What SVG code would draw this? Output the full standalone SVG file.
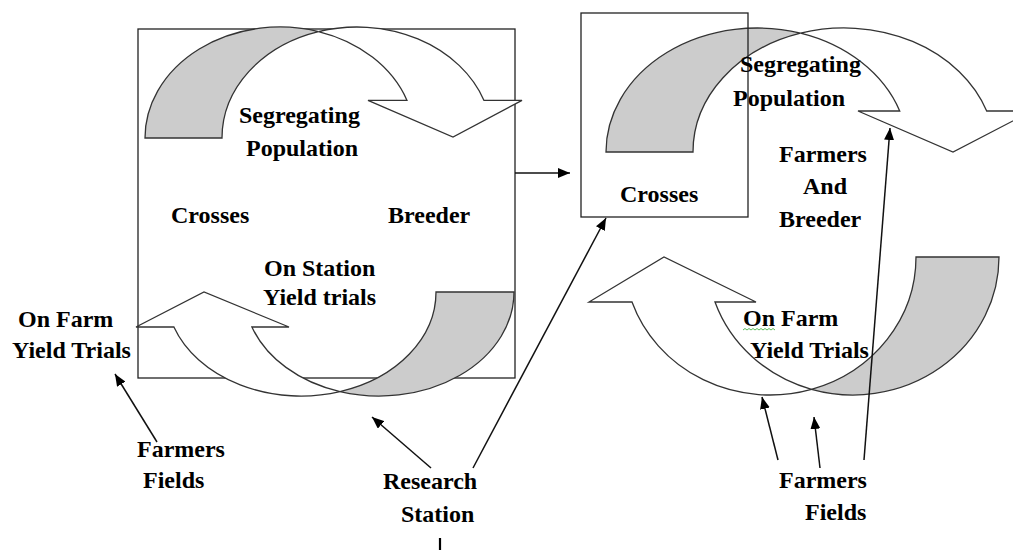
<svg xmlns="http://www.w3.org/2000/svg" width="1013" height="550" viewBox="0 0 1013 550">
<style>
  .box{fill:#fff;stroke:#222;stroke-width:1.3}
  .boxo{fill:none;stroke:#222;stroke-width:1.3}
  .wh{fill:#fff;stroke:#333;stroke-width:1.3;stroke-linejoin:miter}
  .gr{fill:#cccccc;stroke:#333;stroke-width:1.3}
  .t{font-family:"Liberation Serif","Times New Roman",serif;font-weight:bold;font-size:24px;fill:#000}
  .c{stroke:#111;stroke-width:1.5;fill:none}
</style>
<defs>
  <marker id="ah" viewBox="0 0 12 10" refX="12" refY="5" markerWidth="12" markerHeight="10" markerUnits="userSpaceOnUse" orient="auto">
    <path d="M0,0 L12,5 L0,10 Z" fill="#000"/>
  </marker>
</defs>
<rect width="1013" height="550" fill="#fff"/>

<g id="left-box">
  <rect class="box" x="138" y="29" width="377" height="349"/>
</g>

<g id="left-top-arrow">
  <path class="gr" d="M145,138 A135,111 0 0,1 318.5,31.6 A135,111 0 0,0 222,138 Z"/>
  <path class="wh" d="M318.5,31.6 A135,111 0 0,1 407,100.4 L368,100.4 L453,137 L522,100.4 L484,100.4 A135,111 0 0,0 318.5,31.6 Z"/>
</g>

<g id="left-bottom-arrow">
  <path class="gr" d="M436,292 L514,292 A135,104 0 0,1 340,391.6 A135,104 0 0,0 436,292 Z"/>
  <path class="wh" d="M340,391.6 A135,104 0 0,1 173.9,327 L136,327 L204,292 L289,327 L251.9,327 A135,104 0 0,0 340,391.6 Z"/>
</g>

<g id="right-top-arrow">
  <path class="gr" d="M606,152 A151.2,124 0 0,1 800.5,33.2 A151.2,124 0 0,0 693,152 Z"/>
  <path class="wh" d="M800.5,33.2 A151.2,124 0 0,1 899.7,111 L858,111 L953,152 L1032,111 L986.7,111 A151.2,124 0 0,0 800.5,33.2 Z"/>
</g>

<g id="right-box">
  <rect class="boxo" x="581" y="13" width="167" height="204"/>
</g>

<g id="right-bottom-arrow">
  <path class="gr" d="M916,257 L999,257 A146,138 0 0,1 811.5,389.3 A146,138 0 0,0 916,257 Z"/>
  <path class="wh" d="M811.5,389.3 A146,138 0 0,1 632,302 L589,302 L664,257 L756,302 L715,302 A146,138 0 0,0 811.5,389.3 Z"/>
</g>

<g id="labels">
  <text class="t" x="239" y="123">Segregating</text>
  <text class="t" x="246" y="156">Population</text>
  <text class="t" x="171" y="223">Crosses</text>
  <text class="t" x="388" y="223">Breeder</text>
  <text class="t" x="264" y="276">On Station</text>
  <text class="t" x="263" y="305">Yield trials</text>
  <text class="t" x="18" y="327">On Farm</text>
  <text class="t" x="12" y="358">Yield Trials</text>
  <text class="t" x="137" y="457">Farmers</text>
  <text class="t" x="143" y="488">Fields</text>
  <text class="t" x="383" y="489">Research</text>
  <text class="t" x="401" y="522">Station</text>
  <text class="t" x="620" y="202">Crosses</text>
  <text class="t" x="740" y="72">Segregating</text>
  <text class="t" x="733" y="106">Population</text>
  <text class="t" x="779" y="162">Farmers</text>
  <text class="t" x="803" y="194">And</text>
  <text class="t" x="779" y="227">Breeder</text>
  <text class="t" x="743" y="326">On Farm</text>
  <text class="t" x="750" y="358">Yield Trials</text>
  <text class="t" x="779" y="488">Farmers</text>
  <text class="t" x="805" y="520">Fields</text>
  <path d="M743,330 l2,-1.5 l2,1.5 l2,-1.5 l2,1.5 l2,-1.5 l2,1.5 l2,-1.5 l2,1.5 l2,-1.5 l2,1.5 l2,-1.5 l2,1.5 l2,-1.5 l2,1.5 l2,-1.5 l2,1.5" fill="none" stroke="#3a3" stroke-width="0.8"/>
</g>

<g id="connectors">
  <line class="c" x1="515" y1="173" x2="570" y2="173" marker-end="url(#ah)"/>
  <line class="c" x1="473" y1="468" x2="606" y2="218" marker-end="url(#ah)"/>
  <line class="c" x1="431" y1="468" x2="372" y2="417" marker-end="url(#ah)"/>
  <line class="c" x1="157" y1="442" x2="115" y2="374" marker-end="url(#ah)"/>
  <line class="c" x1="778" y1="460" x2="762" y2="397" marker-end="url(#ah)"/>
  <line class="c" x1="820" y1="468" x2="814" y2="417" marker-end="url(#ah)"/>
  <line class="c" x1="864" y1="460" x2="890" y2="128" marker-end="url(#ah)"/>
  <line x1="440" y1="538" x2="440" y2="550" stroke="#000" stroke-width="2.2"/>
</g>
</svg>
